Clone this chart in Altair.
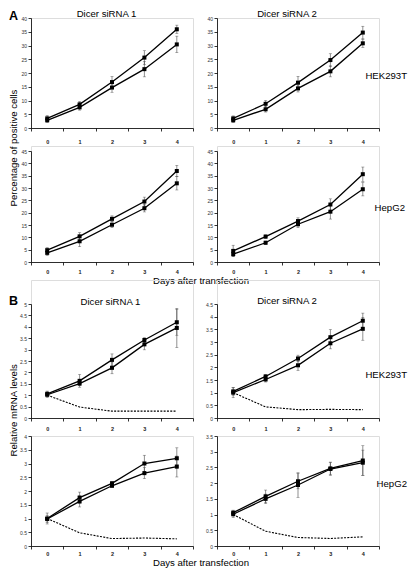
import altair as alt
import pandas as pd

days = [0, 1, 2, 3, 4]

# Panel A: percentage of positive cells (upper / lower series, with error sizes)
a_hek_s1_up = [3.5, 8.6, 16.7, 25.6, 35.9]
a_hek_s1_up_err = [1.0, 1.0, 2.0, 2.5, 1.5]
a_hek_s1_lo = [2.8, 7.5, 14.7, 21.4, 30.4]
a_hek_s1_lo_err = [0.8, 1.0, 1.7, 2.8, 3.0]

a_hek_s2_up = [3.5, 8.8, 16.5, 24.7, 34.7]
a_hek_s2_up_err = [0.9, 1.2, 2.3, 2.3, 2.3]
a_hek_s2_lo = [2.8, 6.8, 14.4, 20.6, 30.8]
a_hek_s2_lo_err = [0.8, 1.0, 1.3, 2.0, 1.5]

a_hep_s1_up = [4.8, 10.4, 17.5, 24.5, 36.9]
a_hep_s1_up_err = [1.0, 1.5, 1.2, 1.8, 2.3]
a_hep_s1_lo = [3.7, 8.4, 15.1, 21.8, 31.9]
a_hep_s1_lo_err = [1.0, 2.2, 1.2, 1.5, 2.7]

a_hep_s2_up = [4.5, 10.3, 16.6, 23.3, 35.6]
a_hep_s2_up_err = [2.3, 0.7, 1.3, 2.3, 2.9]
a_hep_s2_lo = [3.2, 7.8, 15.3, 20.4, 29.5]
a_hep_s2_lo_err = [1.0, 0.7, 1.3, 3.0, 2.7]

# Panel B: relative mRNA levels
b_hek_s1_up = [1.06, 1.63, 2.55, 3.42, 4.2]
b_hek_s1_up_err = [0.12, 0.28, 0.26, 0.1, 0.57]
b_hek_s1_lo = [1.02, 1.51, 2.2, 3.23, 3.95]
b_hek_s1_lo_err = [0.12, 0.08, 0.26, 0.24, 0.86]
b_hek_s1_ctrl = [1.0, 0.48, 0.3, 0.3, 0.3]

b_hek_s2_up = [1.05, 1.64, 2.35, 3.19, 3.84]
b_hek_s2_up_err = [0.15, 0.08, 0.13, 0.3, 0.3]
b_hek_s2_lo = [1.0, 1.52, 2.08, 2.95, 3.52]
b_hek_s2_lo_err = [0.2, 0.1, 0.2, 0.22, 0.45]
b_hek_s2_ctrl = [1.0, 0.44, 0.33, 0.34, 0.33]

b_hep_s1_up = [1.0, 1.76, 2.28, 3.0, 3.19]
b_hep_s1_up_err = [0.2, 0.2, 0.07, 0.3, 0.38]
b_hep_s1_lo = [0.98, 1.62, 2.19, 2.65, 2.89]
b_hep_s1_lo_err = [0.12, 0.2, 0.06, 0.2, 0.38]
b_hep_s1_ctrl = [1.0, 0.48, 0.27, 0.29, 0.26]

b_hep_s2_up = [1.06, 1.58, 2.06, 2.47, 2.72]
b_hep_s2_up_err = [0.08, 0.2, 0.24, 0.2, 0.47]
b_hep_s2_lo = [1.01, 1.5, 1.94, 2.45, 2.65]
b_hep_s2_lo_err = [0.1, 0.15, 0.39, 0.2, 0.4]
b_hep_s2_ctrl = [1.0, 0.47, 0.27, 0.24, 0.29]

# tick label lists
ticks_a1 = [0, 5, 10, 15, 20, 25, 30, 35, 40]
ticks_a2 = [0, 5, 10, 15, 20, 25, 30, 35, 40, 45]
ticks_b1 = [0, 0.5, 1, 1.5, 2, 2.5, 3, 3.5, 4, 4.5, 5]
ticks_b2 = [0, 0.5, 1, 1.5, 2, 2.5, 3, 3.5, 4, 4.5]
ticks_b3 = [0, 0.5, 1, 1.5, 2, 2.5, 3, 3.5, 4]
ticks_b4 = [0, 0.5, 1, 1.5, 2, 2.5, 3, 3.5]

col_titles = ["Dicer siRNA 1", "Dicer siRNA 2"]
row_labels = ["HEK293T", "HepG2"]
x_title = "Days after transfection"
y_titles = ["Percentage of positive cells", "Relative mRNA levels"]
panel_tags = ["A", "B"]

FONT = "Liberation Sans"
W = 162
TS = 9.6  # title font size


def build_df(up, up_err, lo, lo_err, ctrl=None):
    rows = []
    for d, v, e in zip(days, up, up_err):
        rows.append(dict(day=d, value=v, lo=v - e, hi=v + e, series="upper"))
    for d, v, e in zip(days, lo, lo_err):
        rows.append(dict(day=d, value=v, lo=v - e, hi=v + e, series="lower"))
    if ctrl is not None:
        for d, v in zip(days, ctrl):
            rows.append(dict(day=d, value=v, lo=v, hi=v, series="ctrl"))
    return pd.DataFrame(rows)


def txt(s, x, y, size=TS, weight="normal", align="left", baseline="middle", angle=0):
    return alt.Chart(pd.DataFrame({"t": [s]})).mark_text(
        font=FONT, fontSize=size, fontWeight=weight, align=align,
        baseline=baseline, angle=angle, color="black"
    ).encode(text="t:N", x=alt.value(x), y=alt.value(y))


def panel(df, ymax, yticks, H, top, circles, lpad, texts):
    xaxis = alt.Axis(title=None, labelAngle=0, tickBand="extent", tickSize=3,
                     tickColor="black", domainColor="black", tickWidth=0.8,
                     domainWidth=0.8, labelFontSize=5.5, labelFontWeight="bold",
                     labelFont=FONT, labelPadding=lpad, labelColor="#222", grid=False)
    xscale = alt.Scale(type="band", paddingInner=0, paddingOuter=0, domain=days)

    def X():
        return alt.X("day:O", scale=xscale, bandPosition=0.5, axis=xaxis)

    yscale = alt.Scale(domain=[0, ymax], range=[H, top], nice=False, zero=True)
    yaxis = alt.Axis(title=None, values=yticks, format=".1~f", tickSize=3, tickColor="black",
                     domainColor="black", tickWidth=0.8, domainWidth=0.8,
                     labelFontSize=5, labelFont=FONT, labelPadding=1.5,
                     labelColor="#333", grid=False, labelOverlap=False, labelFlush=False)

    def Y(f):
        return alt.Y(f, scale=yscale, axis=yaxis)

    base = alt.Chart(df)
    main = base.transform_filter(alt.datum.series != "ctrl")
    lines = main.mark_line(color="black", strokeWidth=1.3).encode(
        x=X(), y=Y("value:Q"), detail="series:N")
    rules = main.mark_rule(color="#444", strokeWidth=0.6).encode(
        x=X(), y=Y("lo:Q"), y2="hi:Q")
    cap_lo = main.mark_tick(color="#444", thickness=0.6, size=3).encode(x=X(), y=Y("lo:Q"))
    cap_hi = main.mark_tick(color="#444", thickness=0.6, size=3).encode(x=X(), y=Y("hi:Q"))
    shape_range = ["circle", "square"] if circles else ["square", "square"]
    pts = main.mark_point(filled=True, color="black", opacity=1, size=16).encode(
        x=X(), y=Y("value:Q"),
        shape=alt.Shape("series:N", scale=alt.Scale(domain=["upper", "lower"], range=shape_range),
                        legend=None))
    layers = [rules, cap_lo, cap_hi, lines, pts]
    if (df.series == "ctrl").any():
        ctrl = base.transform_filter(alt.datum.series == "ctrl").mark_line(
            color="black", strokeWidth=1.1, strokeDash=[2, 1.3]).encode(x=X(), y=Y("value:Q"))
        layers.append(ctrl)
    layers += texts
    return alt.layer(*layers).properties(width=W, height=H)


# row 1
p1 = panel(build_df(a_hek_s1_up, a_hek_s1_up_err, a_hek_s1_lo, a_hek_s1_lo_err), 40, ticks_a1, 110, 0, False, 8.5,
           [txt(panel_tags[0], -22, -8, size=12.5, weight="bold", baseline="top"),
            txt(col_titles[0], 75.5, -4, align="center"),
            txt(y_titles[0], -17, 130, align="center", angle=270)])
p2 = panel(build_df(a_hek_s2_up, a_hek_s2_up_err, a_hek_s2_lo, a_hek_s2_lo_err), 40, ticks_a1, 110, 0, False, 8.5,
           [txt(col_titles[1], 70, -4, align="center"),
            txt(row_labels[0], 190, 58, align="right")])
# row 2
p3 = panel(build_df(a_hep_s1_up, a_hep_s1_up_err, a_hep_s1_lo, a_hep_s1_lo_err), 45, ticks_a2, 116, 5, False, 4.5,
           [txt(x_title, 170, 135.2, align="center")])
p4 = panel(build_df(a_hep_s2_up, a_hep_s2_up_err, a_hep_s2_lo, a_hep_s2_lo_err), 45, ticks_a2, 116, 5, False, 4.5,
           [txt(row_labels[1], 188, 61.7, align="right")])
# row 3
p5 = panel(build_df(b_hek_s1_up, b_hek_s1_up_err, b_hek_s1_lo, b_hek_s1_lo_err, b_hek_s1_ctrl), 5, ticks_b1, 138, 24, True, 5,
           [txt(panel_tags[1], -22, 15.4, size=12.5, weight="bold", baseline="top"),
            txt(col_titles[0], 79.4, 22.2, align="center"),
            txt(y_titles[1], -17, 130.3, align="center", angle=270)])
p6 = panel(build_df(b_hek_s2_up, b_hek_s2_up_err, b_hek_s2_lo, b_hek_s2_lo_err, b_hek_s2_ctrl), 4.5, ticks_b2, 138, 24, True, 5,
           [txt(col_titles[1], 70, 20.9, align="center"),
            txt(row_labels[0], 190, 95.2, align="right")])
# row 4
p7 = panel(build_df(b_hep_s1_up, b_hep_s1_up_err, b_hep_s1_lo, b_hep_s1_lo_err, b_hep_s1_ctrl), 4, ticks_b3, 110, 0, True, 2,
           [txt(x_title, 170, 127.3, align="center")])
p8 = panel(build_df(b_hep_s2_up, b_hep_s2_up_err, b_hep_s2_lo, b_hep_s2_lo_err, b_hep_s2_ctrl), 3.5, ticks_b4, 110, 0, True, 2,
           [txt(row_labels[1], 190, 48.3, align="right")])

chart = alt.concat(p1, p2, p3, p4, p5, p6, p7, p8, columns=2,
                   spacing={"row": 18, "column": 24}, bounds="flush").properties(
    padding=0, background="white"
).configure_view(stroke=None).configure(font=FONT)

chart.save("out.html", embed_options={"renderer": "svg", "actions": False})
